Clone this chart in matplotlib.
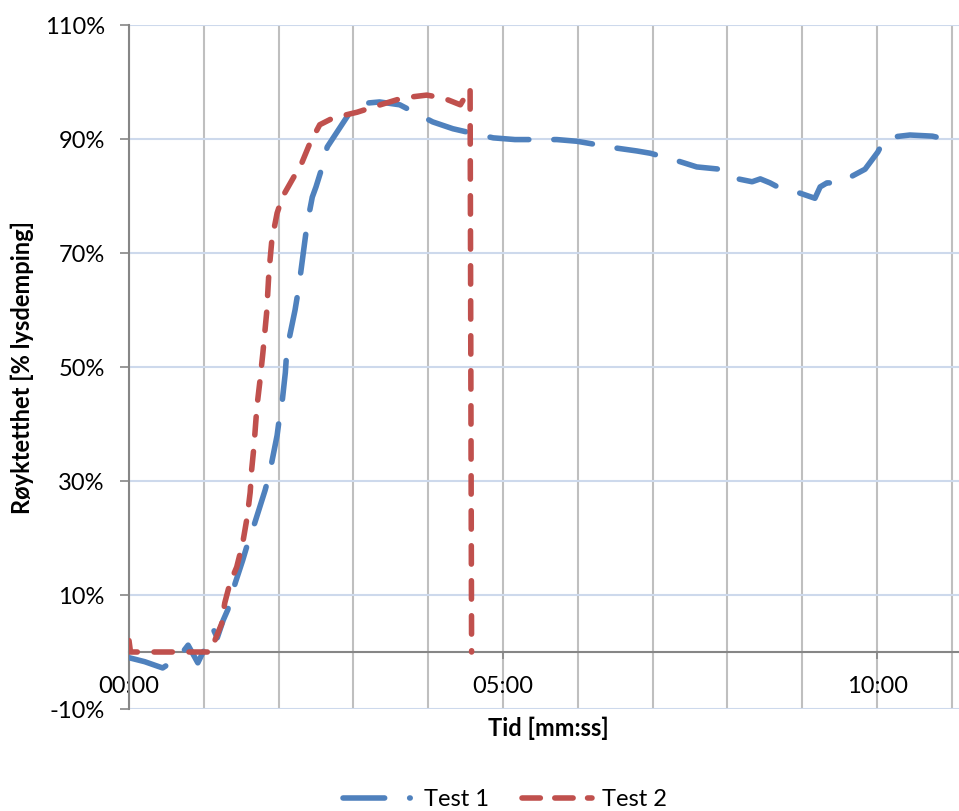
import matplotlib
matplotlib.use('Agg')
import matplotlib.pyplot as plt
from matplotlib.ticker import MultipleLocator, FixedLocator, FuncFormatter
from matplotlib.lines import Line2D

plt.rcParams['font.family'] = ['Lato', 'DejaVu Sans']

# Time in minutes, smoke density in %
t1 = [0.00, 0.21, 0.45, 0.66, 0.79, 0.92, 1.05, 1.13, 1.18, 1.26, 1.32, 1.42, 1.52,
      1.62, 1.68, 1.82, 1.88, 1.98, 2.02, 2.05, 2.09, 2.11, 2.22, 2.27, 2.34, 2.38,
      2.45, 2.50, 2.59, 2.65, 2.78, 2.95, 3.18, 3.35, 3.62, 4.06, 4.33, 4.56, 4.87,
      5.16, 5.72, 5.99, 6.52, 6.79, 6.97, 7.30, 7.59, 7.90, 8.03, 8.33, 8.44, 8.57,
      8.70, 8.97, 9.17, 9.24, 9.33, 9.51, 9.64, 9.84, 10.01, 10.11, 10.44, 10.74, 11.08]
v1 = [-1.0, -1.7, -2.8, -1.0, 1.2, -1.9, 1.6, 3.9, 2.5, 5.6, 7.4, 12.1, 16.1,
      20.5, 22.6, 28.4, 31.4, 38.0, 42.0, 44.2, 49.0, 53.0, 60.0, 64.0, 71.0, 75.0,
      79.8, 81.6, 85.4, 88.6, 91.2, 94.6, 96.3, 96.5, 96.0, 93.0, 91.8, 91.1, 90.2,
      89.9, 89.9, 89.6, 88.4, 87.9, 87.5, 86.3, 85.1, 84.7, 83.3, 82.5, 83.0, 82.3,
      81.4, 80.5, 79.6, 81.6, 82.3, 82.3, 83.3, 84.7, 87.7, 90.2, 90.7, 90.5, 89.5]

t2 = [0.00, 0.02, 1.10, 1.15, 1.24, 1.28, 1.35, 1.44, 1.52, 1.58, 1.62, 1.64, 1.67,
      1.71, 1.75, 1.79, 1.84, 1.87, 1.91, 1.98, 2.05, 2.18, 2.31, 2.42, 2.55, 2.73,
      3.05, 3.36, 3.66, 3.98, 4.20, 4.43, 4.56, 4.58]
v2 = [2.0, 0.0, 0.0, 2.1, 5.0, 8.6, 12.1, 14.9, 19.1, 23.7, 28.0, 32.0, 36.0,
      43.0, 47.5, 52.5, 59.5, 66.5, 72.3, 77.0, 79.8, 82.8, 85.8, 89.3, 92.5, 93.7,
      94.7, 96.0, 97.2, 97.7, 97.2, 96.0, 98.9, 0.0]

y_ticks = [-10, 10, 30, 50, 70, 90, 110]
x_major = [0, 5, 10]

blue = '#4f81bd'
red = '#c0504d'
FS = 17
LW = 4.0

fig = plt.figure(figsize=(9.59, 8.11), dpi=100)
ax = fig.add_axes([129/959, 102/811, 830/959, 684/811])

ax.set_xlim(0, 11.096)
ax.set_ylim(-10, 110)

ax.plot(t1, v1, color=blue, lw=LW, linestyle=(0, (7.0, 4.5)),
        dash_capstyle='round', solid_capstyle='round', zorder=3)
ax.plot(t2, v2, color=red, lw=LW, linestyle=(0, (3.3, 3.0)),
        dash_capstyle='round', solid_capstyle='round', zorder=3)

ax.yaxis.set_major_locator(FixedLocator(y_ticks))
ax.yaxis.set_major_formatter(FuncFormatter(lambda v, p: f"{int(v)}%"))
ax.xaxis.set_major_locator(FixedLocator(x_major))
ax.xaxis.set_minor_locator(MultipleLocator(1))
ax.xaxis.set_major_formatter(FuncFormatter(lambda m, p: f"{int(m):02d}:00"))

ax.grid(axis='y', which='major', color='#cdd9ec', lw=1.5, zorder=0)
ax.grid(axis='x', which='both', color='#bfbfbf', lw=1.5, zorder=0)
ax.set_axisbelow(True)

for s in ['top', 'right']:
    ax.spines[s].set_visible(False)
ax.spines['bottom'].set_position(('data', 0))
ax.spines['bottom'].set_color('#868686')
ax.spines['bottom'].set_linewidth(1.5)
ax.spines['left'].set_color('#868686')
ax.spines['left'].set_linewidth(1.5)

ax.tick_params(axis='y', which='major', length=6.5, width=1.2, color='#868686',
               pad=11, labelsize=FS)
ax.tick_params(axis='x', which='major', length=5, width=1.2, color='#868686',
               pad=12, labelsize=FS)
ax.tick_params(axis='x', which='minor', length=0)

fig.text(548/959, 1 - 728/811, 'Tid [mm:ss]', ha='center', va='center',
         fontsize=FS, fontweight='bold')
fig.text(22/959, 1 - 367/811, 'Røyktetthet [% lysdemping]', ha='center', va='center',
         rotation=90, fontsize=FS, fontweight='bold')

h1 = Line2D([], [], color=blue, lw=LW, linestyle=(0, (7.5, 4.5, 0.1, 4.5)),
            dash_capstyle='round')
h2 = Line2D([], [], color=red, lw=LW, linestyle=(0, (3.3, 2.6)),
            dash_capstyle='round')
fig.legend([h1, h2], ['Test 1', 'Test 2'], loc='center',
           bbox_to_anchor=(505/959, 1 - 800/811), ncol=2, frameon=False,
           fontsize=FS, handlelength=3.0, handletextpad=0.4, columnspacing=1.4)

fig.savefig('out.png', dpi=100)
